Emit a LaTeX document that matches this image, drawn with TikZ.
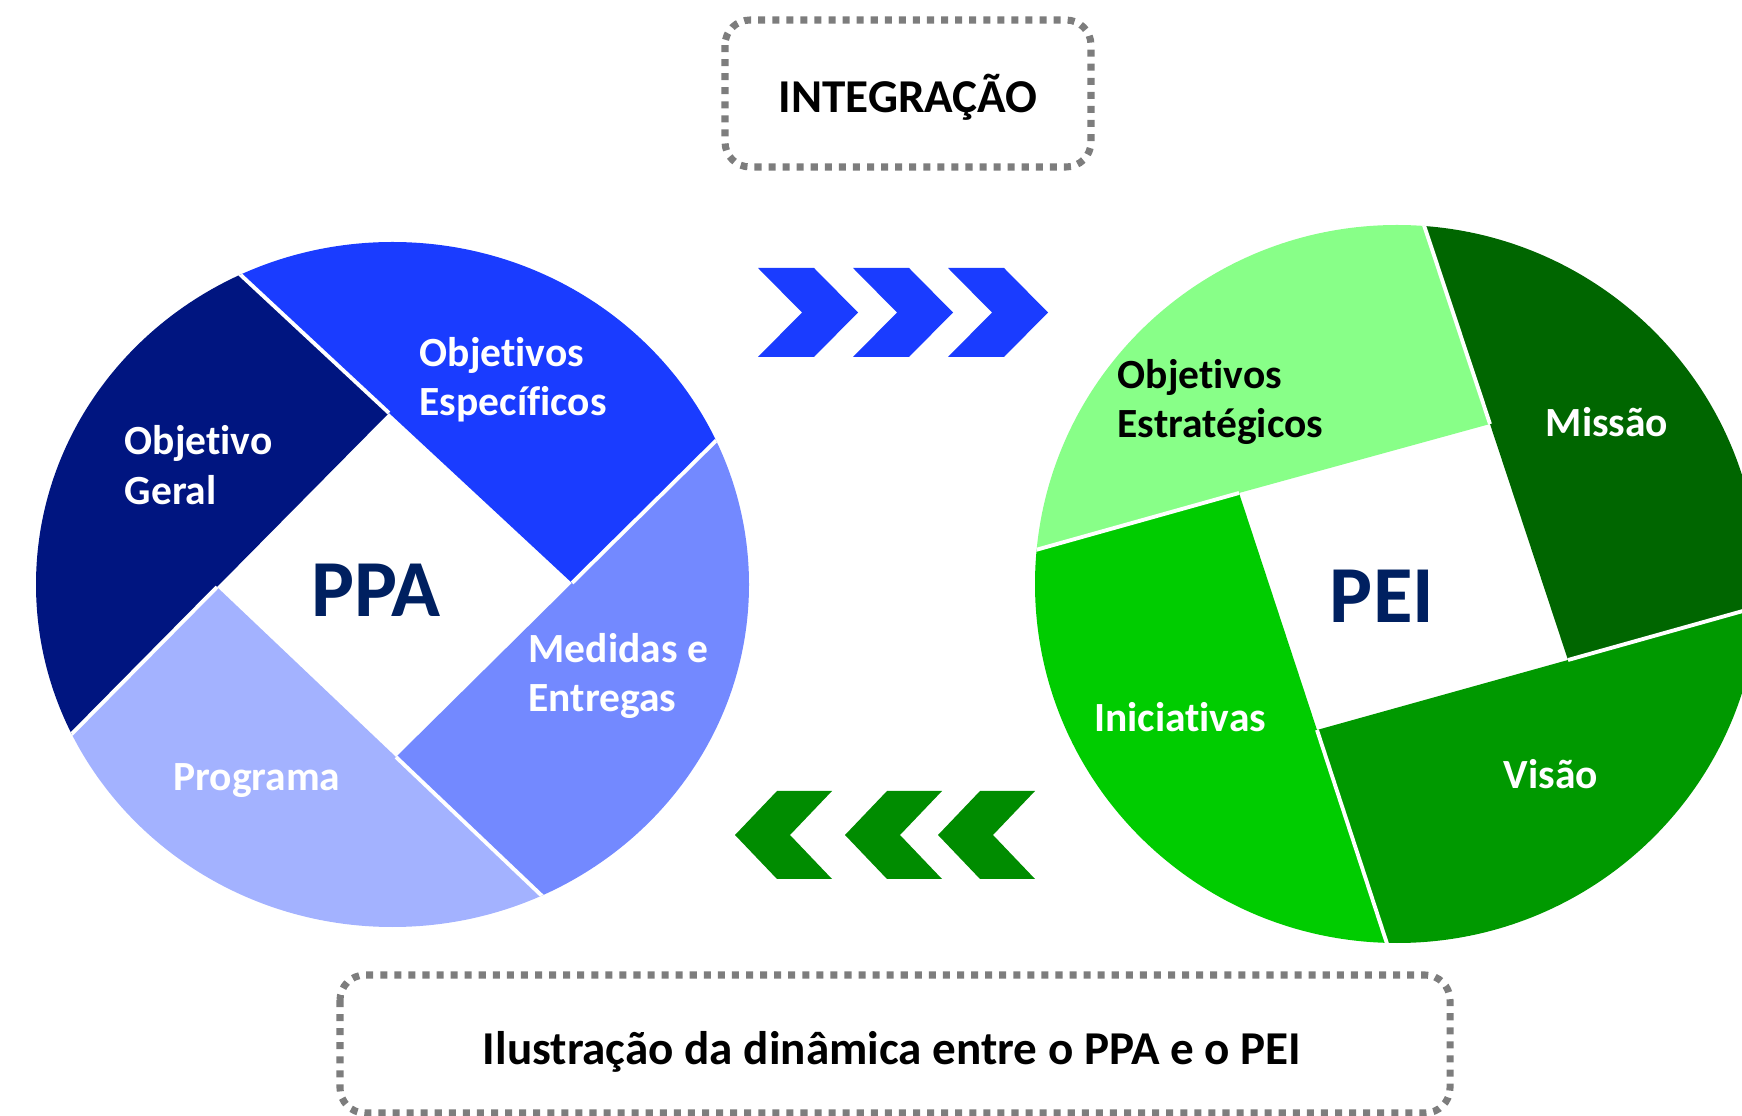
\documentclass[tikz,border=0pt]{standalone}
\usepackage{fontspec}
\setmainfont{Carlito}[Ligatures={NoCommon,NoContextual}]
\definecolor{navyseg}{RGB}{0,21,128}
\definecolor{blueseg}{RGB}{26,60,255}
\definecolor{midseg}{RGB}{115,137,255}
\definecolor{lightseg}{RGB}{163,178,255}
\definecolor{paleg}{RGB}{136,255,136}
\definecolor{darkg}{RGB}{0,102,0}
\definecolor{midg}{RGB}{0,153,0}
\definecolor{brightg}{RGB}{0,204,0}
\definecolor{arrowg}{RGB}{0,140,0}
\definecolor{hubblue}{RGB}{0,32,96}
\definecolor{dotgrey}{RGB}{125,125,125}
\begin{document}
\begin{tikzpicture}[x=0.01cm,y=-0.01cm,
  seglabel/.style={font=\fontsize{11.8}{14}\selectfont\bfseries,text=white,align=left,inner sep=0pt},
  hub/.style={font=\fontsize{23}{26}\selectfont\bfseries,text=hubblue,inner sep=0pt},
  caption/.style={font=\fontsize{13.4}{16}\selectfont\bfseries,inner sep=0pt},
  dotbox/.style={draw=dotgrey,line width=2pt,dash pattern=on 2pt off 2pt,rounded corners=0.25cm},
  cut/.style={white,line width=1.1pt}]
\useasboundingbox (0,0) rectangle (1742,1116);

% PPA wheel
\begin{scope}
\clip (392.5,584.5) ellipse [x radius=356.5, y radius=342.5];
\fill[navyseg] (115,158) -- (389,413) -- (217,587) -- (-41,848) -- (-200,848) -- (-200,158) -- cycle;
\fill[blueseg] (115,158) -- (389,413) -- (572,583) -- (836,322) -- (836,158) -- cycle;
\fill[midseg] (836,322) -- (572,583) -- (396,757) -- (664,1012) -- (836,1012) -- cycle;
\fill[lightseg] (664,1012) -- (396,757) -- (217,587) -- (-41,848) -- (-200,848) -- (-200,1012) -- cycle;
\draw[cut] (115,158) -- (389,413);
\draw[cut] (836,322) -- (572,583);
\draw[cut] (664,1012) -- (396,757);
\draw[cut] (-41,848) -- (217,587);
\end{scope}
\node[seglabel,anchor=west] (geral) at (124,465) {Objetivo\\Geral};
\node[seglabel,anchor=west] (especificos) at (419,380) {Objetivos\\Específicos};
\node[seglabel,anchor=west] (medidas) at (528,676) {Medidas e\\Entregas};
\node[seglabel] (programa) at (257,781) {Programa};
\node[hub] (ppa) at (376,590) {PPA};

% PEI wheel
\begin{scope}
\clip (1397,584) ellipse [x radius=362, y radius=359];
\fill[paleg] (950,574) -- (1239,493) -- (1490,424) -- (1399,150) -- (950,150) -- cycle;
\fill[darkg] (1399,150) -- (1490,424) -- (1568,660) -- (1850,581) -- (1850,150) -- cycle;
\fill[midg] (1850,581) -- (1568,660) -- (1317,730) -- (1412,1020) -- (1850,1020) -- cycle;
\fill[brightg] (1412,1020) -- (1317,730) -- (1239,493) -- (950,574) -- (950,1020) -- cycle;
\draw[cut] (950,574) -- (1239,493);
\draw[cut] (1399,150) -- (1490,424);
\draw[cut] (1850,581) -- (1568,660);
\draw[cut] (1412,1020) -- (1317,730);
\end{scope}
\node[seglabel,anchor=west,text=black] (estrategicos) at (1117,402) {Objetivos\\Estratégicos};
\node[seglabel] (missao) at (1607,422) {Missão};
\node[seglabel] (iniciativas) at (1180,717) {Iniciativas};
\node[seglabel] (visao) at (1551,774) {Visão};
\node[hub] (pei) at (1382,596) {PEI};

% chevrons
\foreach \x in {758,853,948}
  \fill[blueseg] (\x,268) -- ++(56,0) -- ++(44,44.5) -- ++(-44,44.5) -- ++(-56,0) -- ++(44,-44.5) -- cycle;
\foreach \t in {735,845,938}
  \fill[arrowg] (\t,835) -- ++(42,-44) -- ++(55,0) -- ++(-42,44) -- ++(42,44) -- ++(-55,0) -- cycle;

% boxes
\draw[dotbox] (725,20) rectangle (1091,167);
\node[caption] (integracao) at (908,97) {INTEGRAÇÃO};
\draw[dotbox] (340,975) rectangle (1450,1113);
\node[caption] (legenda) at (892,1052) {Ilustração da dinâmica entre o PPA e o PEI};
\end{tikzpicture}
\end{document}
